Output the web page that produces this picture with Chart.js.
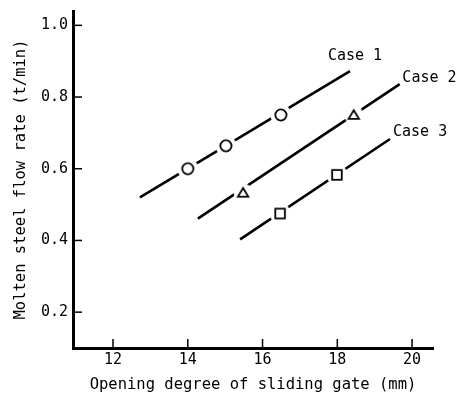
<!DOCTYPE html>
<html>
<head>
<meta charset="utf-8">
<script src="https://cdn.jsdelivr.net/npm/chart.js@4/dist/chart.umd.min.js"></script>
<style>
  html, body { margin: 0; padding: 0; background: #fff; }
  #wrap { width: 464px; height: 397px; }
</style>
</head>
<body>
<div id="wrap"><canvas id="flowChart"></canvas></div>
<script>
// Data
const caseNames = ['Case 1', 'Case 2', 'Case 3'];

// measured points (opening degree mm, flow rate t/min)
const case1X = [14.0, 15.02, 16.49];
const case1Y = [0.60, 0.664, 0.75];
const case2X = [15.48, 18.44];
const case2Y = [0.533, 0.75];
const case3X = [16.47, 17.99];
const case3Y = [0.475, 0.583];

// fitted line end points
const fit1X = [12.72, 18.34];
const fit1Y = [0.52, 0.872];
const fit2X = [14.27, 19.67];
const fit2Y = [0.461, 0.836];
const fit3X = [15.40, 19.41];
const fit3Y = [0.403, 0.683];

const xTicks = [12, 14, 16, 18, 20];
const yTicks = [0.2, 0.4, 0.6, 0.8, 1.0];
const yTickLabels = ['0.2', '0.4', '0.6', '0.8', '1.0'];

const FONT = "'DejaVu Sans Mono', monospace";

function pts(xs, ys) {
    return xs.map((x, i) => ({ x: x, y: ys[i] }));
}

// marker image: white halo (breaks the line) + open black symbol
function makeMarker(kind) {
    const c = document.createElement('canvas');
    c.width = 24; c.height = 24;
    const g = c.getContext('2d');
    const m = 12;
    g.fillStyle = '#fff';
    g.beginPath();
    g.arc(m, m, kind === 'triangle' ? 9.5 : 10.5, 0, Math.PI * 2);
    g.fill();
    g.strokeStyle = '#000';
    g.lineWidth = 1.8;
    g.beginPath();
    if (kind === 'circle') {
        g.arc(m, m, 5.6, 0, Math.PI * 2);
    } else if (kind === 'triangle') {
        g.moveTo(m, m - 4.8);
        g.lineTo(m + 5.2, m + 3.8);
        g.lineTo(m - 5.2, m + 3.8);
        g.closePath();
    } else {
        g.rect(m - 4.8, m - 4.8, 9.6, 9.6);
    }
    g.stroke();
    return c;
}
const markerImages = [makeMarker('circle'), makeMarker('triangle'), makeMarker('square')];

const markerX = [case1X, case2X, case3X];
const markerY = [case1Y, case2Y, case3Y];
const fitX = [fit1X, fit2X, fit3X];
const fitY = [fit1Y, fit2Y, fit3Y];

// markers get the lower order so they are drawn over the lines
const datasets = [];
caseNames.forEach((name, i) => {
    datasets.push({
        label: name,
        data: pts(markerX[i], markerY[i]),
        showLine: false,
        pointStyle: markerImages[i],
        pointRadius: 10,
        order: 1
    });
});
caseNames.forEach((name, i) => {
    datasets.push({
        label: name + ' fit',
        data: pts(fitX[i], fitY[i]),
        showLine: true,
        borderColor: '#000',
        borderWidth: 2.6,
        pointRadius: 0,
        order: 2
    });
});

// inward tick marks + case labels
const extrasPlugin = {
    id: 'extras',
    afterDraw(chart) {
        const ctx = chart.ctx;
        const xs = chart.scales.x, ys = chart.scales.y;
        const area = chart.chartArea;
        ctx.save();
        ctx.strokeStyle = '#000';
        ctx.lineWidth = 1.5;
        xTicks.forEach(v => {
            const px = xs.getPixelForValue(v);
            ctx.beginPath();
            ctx.moveTo(px, area.bottom);
            ctx.lineTo(px, area.bottom - 9);
            ctx.stroke();
        });
        yTicks.forEach(v => {
            const py = ys.getPixelForValue(v);
            ctx.beginPath();
            ctx.moveTo(area.left, py);
            ctx.lineTo(area.left + 9, py);
            ctx.stroke();
        });
        // labels anchored in data units
        const anchors = [[17.75, 0.915], [19.74, 0.853], [19.49, 0.703]];
        ctx.fillStyle = '#000';
        ctx.font = '15px ' + FONT;
        ctx.textAlign = 'left';
        ctx.textBaseline = 'middle';
        caseNames.forEach((name, i) => {
            ctx.fillText(name, xs.getPixelForValue(anchors[i][0]), ys.getPixelForValue(anchors[i][1]));
        });
        ctx.restore();
    }
};

new Chart(document.getElementById('flowChart'), {
    type: 'scatter',
    data: { datasets: datasets },
    options: {
        responsive: true,
        maintainAspectRatio: false,
        animation: false,
        layout: { padding: { top: 8, right: 31, left: 0, bottom: 0 } },
        plugins: {
            legend: { display: false },
            tooltip: { enabled: false }
        },
        scales: {
            x: {
                type: 'linear',
                min: 10.93,
                max: 20.56,
                afterFit: s => { s.height = 49; s.paddingLeft = 0; s.paddingRight = 0; },
                afterBuildTicks: s => { s.ticks = xTicks.map(v => ({ value: v })); },
                grid: { display: true, drawOnChartArea: false, drawTicks: false },
                border: { color: '#000', width: 3 },
                ticks: {
                    color: '#000',
                    padding: 3,
                    maxRotation: 0,
                    font: { family: FONT, size: 15 },
                    callback: v => String(v)
                },
                title: {
                    display: true,
                    text: 'Opening degree of sliding gate (mm)',
                    color: '#000',
                    font: { family: FONT, size: 15.5 },
                    padding: { top: 0, bottom: 3 }
                }
            },
            y: {
                type: 'linear',
                min: 0.1,
                max: 1.04,
                afterFit: s => { s.width = 73; s.paddingTop = 0; s.paddingBottom = 0; },
                afterBuildTicks: s => { s.ticks = yTicks.map(v => ({ value: v })); },
                grid: { display: true, drawOnChartArea: false, drawTicks: false },
                border: { color: '#000', width: 3 },
                ticks: {
                    color: '#000',
                    padding: 5,
                    font: { family: FONT, size: 15 },
                    callback: (v, idx) => yTickLabels[idx]
                },
                title: {
                    display: true,
                    text: 'Molten steel flow rate (t/min)',
                    color: '#000',
                    font: { family: FONT, size: 15.5 },
                    padding: { top: 12, bottom: 0 }
                }
            }
        }
    },
    plugins: [extrasPlugin]
});
</script>
</body>
</html>
